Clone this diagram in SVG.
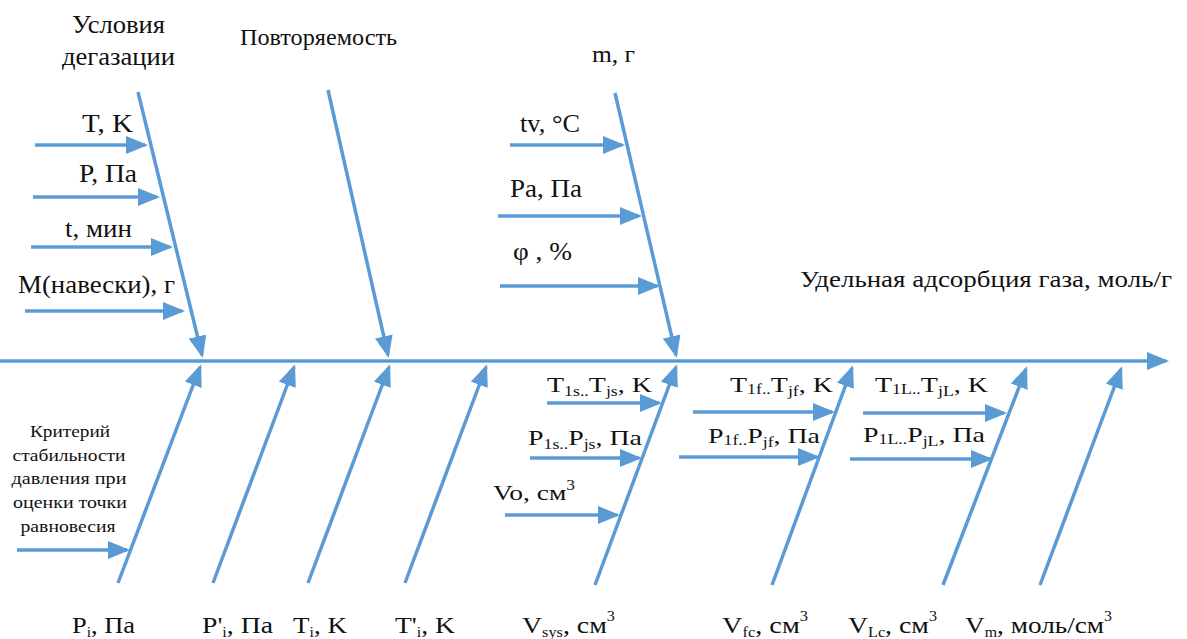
<svg xmlns="http://www.w3.org/2000/svg" width="1187" height="639" viewBox="0 0 1187 639">
<defs>
<marker id="ah" markerUnits="userSpaceOnUse" markerWidth="22" markerHeight="18" viewBox="0 0 22 18" refX="19" refY="9" orient="auto">
<path d="M0,0 L22,9 L0,18 z" fill="#5b9bd5"/>
</marker>
<style>
.c{stroke:#5b9bd5;stroke-width:3.5;fill:none;marker-end:url(#ah)}
text{fill:#111;font-family:"Times New Roman","Liberation Serif","Noto Serif","DejaVu Serif",serif}
.l{font-size:26px}
.m{font-size:22px}
.s{font-size:17px}
.b{font-size:24px}
.sub{font-size:14px}
</style>
</defs>
<rect width="1187" height="639" fill="#ffffff"/>
<g id="connectors">
<line class="c" x1="0" y1="361" x2="1166" y2="361"/>
<line class="c" x1="138" y1="92" x2="202" y2="355"/>
<line class="c" x1="328" y1="90" x2="388" y2="355"/>
<line class="c" x1="615" y1="93" x2="676" y2="355"/>
<line class="c" x1="118" y1="583" x2="200" y2="367"/>
<line class="c" x1="213" y1="583" x2="294" y2="367"/>
<line class="c" x1="308" y1="583" x2="389" y2="367"/>
<line class="c" x1="405" y1="583" x2="486" y2="367"/>
<line class="c" x1="595" y1="585" x2="676" y2="367"/>
<line class="c" x1="772" y1="585" x2="852" y2="368"/>
<line class="c" x1="943" y1="585" x2="1026" y2="369"/>
<line class="c" x1="1040" y1="585" x2="1121" y2="369"/>
<line class="c" x1="35" y1="145" x2="145" y2="145"/>
<line class="c" x1="33" y1="197" x2="157" y2="197"/>
<line class="c" x1="31" y1="247" x2="170" y2="247"/>
<line class="c" x1="25" y1="311" x2="182" y2="311"/>
<line class="c" x1="510" y1="145" x2="622" y2="145"/>
<line class="c" x1="498" y1="216" x2="639" y2="216"/>
<line class="c" x1="500" y1="286" x2="657" y2="286"/>
<line class="c" x1="17" y1="550" x2="127" y2="550"/>
<line class="c" x1="547" y1="403" x2="659" y2="403"/>
<line class="c" x1="530" y1="458" x2="639" y2="458"/>
<line class="c" x1="505" y1="515" x2="617" y2="515"/>
<line class="c" x1="693" y1="412" x2="832" y2="412"/>
<line class="c" x1="679" y1="457" x2="817" y2="457"/>
<line class="c" x1="863" y1="413" x2="1004" y2="413"/>
<line class="c" x1="850" y1="459" x2="990" y2="459"/>
</g>
<g id="n-usloviya"><text class="l" x="72" y="33" textLength="93" lengthAdjust="spacingAndGlyphs">Условия</text><text class="l" x="62" y="65" textLength="113" lengthAdjust="spacingAndGlyphs">дегазации</text></g>
<g id="n-povtor"><text class="b" x="240" y="45" textLength="157" lengthAdjust="spacingAndGlyphs">Повторяемость</text></g>
<g id="n-m"><text class="b" x="592" y="62" textLength="43" lengthAdjust="spacingAndGlyphs">m, г</text></g>
<g id="n-TK"><text class="l" x="82" y="132" textLength="51" lengthAdjust="spacingAndGlyphs">T, K</text></g>
<g id="n-PPa"><text class="l" x="79" y="182" textLength="58" lengthAdjust="spacingAndGlyphs">P, Па</text></g>
<g id="n-tmin"><text class="l" x="65" y="237" textLength="67" lengthAdjust="spacingAndGlyphs">t, мин</text></g>
<g id="n-M"><text class="l" x="18" y="293" textLength="157" lengthAdjust="spacingAndGlyphs">М(навески), г</text></g>
<g id="n-tv"><text class="l" x="520" y="132" textLength="60" lengthAdjust="spacingAndGlyphs">tv, °C</text></g>
<g id="n-Pa"><text class="l" x="510" y="197" textLength="72" lengthAdjust="spacingAndGlyphs">Pa, Па</text></g>
<g id="n-phi"><text class="l" x="513" y="260" textLength="59" lengthAdjust="spacingAndGlyphs">φ , %</text></g>
<g id="n-result"><text class="b" x="800" y="287" textLength="372" lengthAdjust="spacingAndGlyphs">Удельная адсорбция газа, моль/г</text></g>
<g id="n-kriteriy" class="s" text-anchor="middle">
<text x="70" y="437" textLength="80" lengthAdjust="spacingAndGlyphs">Критерий</text>
<text x="69" y="461" textLength="113" lengthAdjust="spacingAndGlyphs">стабильности</text>
<text x="69" y="484" textLength="115" lengthAdjust="spacingAndGlyphs">давления при</text>
<text x="70" y="508" textLength="114" lengthAdjust="spacingAndGlyphs">оценки точки</text>
<text x="68" y="532" textLength="95" lengthAdjust="spacingAndGlyphs">равновесия</text>
</g>
<g id="n-T1s"><text class="m" x="547" y="392" textLength="105" lengthAdjust="spacingAndGlyphs">T<tspan class="sub" dy="4">1s..</tspan><tspan dy="-4">T</tspan><tspan class="sub" dy="4">js</tspan><tspan dy="-4">, K</tspan></text></g>
<g id="n-P1s"><text class="m" x="528" y="445" textLength="114" lengthAdjust="spacingAndGlyphs">P<tspan class="sub" dy="4">1s..</tspan><tspan dy="-4">P</tspan><tspan class="sub" dy="4">js</tspan><tspan dy="-4">, Па</tspan></text></g>
<g id="n-Vo"><text class="m" x="493" y="500" textLength="82" lengthAdjust="spacingAndGlyphs">Vo, см<tspan class="sub" dy="-10">3</tspan></text></g>
<g id="n-T1f"><text class="m" x="730" y="392" textLength="103" lengthAdjust="spacingAndGlyphs">T<tspan class="sub" dy="2">1f..</tspan><tspan dy="-2">T</tspan><tspan class="sub" dy="4">jf</tspan><tspan dy="-4">, K</tspan></text></g>
<g id="n-P1f"><text class="m" x="708" y="443" textLength="112" lengthAdjust="spacingAndGlyphs">P<tspan class="sub" dy="2">1f..</tspan><tspan dy="-2">P</tspan><tspan class="sub" dy="4">jf</tspan><tspan dy="-4">, Па</tspan></text></g>
<g id="n-T1L"><text class="m" x="875" y="392" textLength="113" lengthAdjust="spacingAndGlyphs">T<tspan class="sub" dy="2">1L..</tspan><tspan dy="-2">T</tspan><tspan class="sub" dy="4">jL</tspan><tspan dy="-4">, K</tspan></text></g>
<g id="n-P1L"><text class="m" x="863" y="442" textLength="122" lengthAdjust="spacingAndGlyphs">P<tspan class="sub" dy="2">1L..</tspan><tspan dy="-2">P</tspan><tspan class="sub" dy="4">jL</tspan><tspan dy="-4">, Па</tspan></text></g>
<g id="n-Pi"><text class="b" x="72" y="633" textLength="63" lengthAdjust="spacingAndGlyphs">P<tspan class="sub" dy="4">i</tspan><tspan dy="-4">, Па</tspan></text></g>
<g id="n-Ppi"><text class="b" x="202" y="633" textLength="71" lengthAdjust="spacingAndGlyphs">P'<tspan class="sub" dy="4">i</tspan><tspan dy="-4">, Па</tspan></text></g>
<g id="n-Ti"><text class="b" x="293" y="633" textLength="54" lengthAdjust="spacingAndGlyphs">T<tspan class="sub" dy="4">i</tspan><tspan dy="-4">, K</tspan></text></g>
<g id="n-Tpi"><text class="b" x="395" y="633" textLength="60" lengthAdjust="spacingAndGlyphs">T'<tspan class="sub" dy="4">i</tspan><tspan dy="-4">, K</tspan></text></g>
<g id="n-Vsys"><text class="b" x="522" y="633" textLength="93" lengthAdjust="spacingAndGlyphs">V<tspan class="sub" dy="4">sys</tspan><tspan dy="-4">, см</tspan><tspan class="sub" dy="-12">3</tspan></text></g>
<g id="n-Vfc"><text class="b" x="722" y="633" textLength="86" lengthAdjust="spacingAndGlyphs">V<tspan class="sub" dy="4">fc</tspan><tspan dy="-4">, см</tspan><tspan class="sub" dy="-12">3</tspan></text></g>
<g id="n-VLc"><text class="b" x="848" y="633" textLength="89" lengthAdjust="spacingAndGlyphs">V<tspan class="sub" dy="4">Lc</tspan><tspan dy="-4">, см</tspan><tspan class="sub" dy="-12">3</tspan></text></g>
<g id="n-Vm"><text class="b" x="965" y="633" textLength="147" lengthAdjust="spacingAndGlyphs">V<tspan class="sub" dy="4">m</tspan><tspan dy="-4">, моль/см</tspan><tspan class="sub" dy="-12">3</tspan></text></g>
</svg>
